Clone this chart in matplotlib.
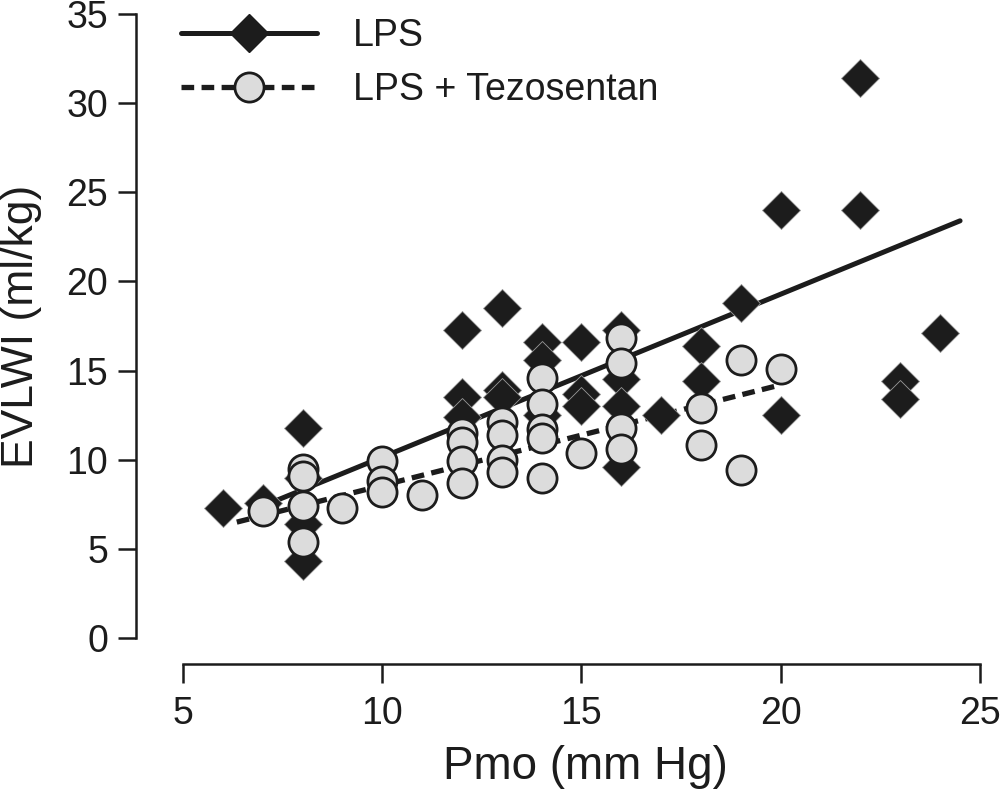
import matplotlib
matplotlib.use("Agg")
import matplotlib.pyplot as plt
from matplotlib.lines import Line2D

plt.rcParams['font.family'] = ['Liberation Sans', 'DejaVu Sans']

# LPS (diamonds)
lps_x = [6, 7, 8, 8, 8, 8, 12, 12, 12, 13, 13, 13, 14, 14, 14, 15, 15, 15,
         16, 16, 16, 16, 17, 18, 18, 19, 20, 20, 22, 22, 23, 23, 24]
lps_y = [7.3, 7.6, 11.8, 9.0, 6.4, 4.3, 17.3, 13.5, 12.4, 18.5, 13.9, 13.5,
         16.6, 15.6, 12.5, 16.6, 13.7, 13.0, 17.3, 14.5, 13.0, 9.6, 12.5,
         16.4, 14.4, 18.8, 24.0, 12.5, 31.4, 24.0, 14.4, 13.4, 17.1]

# LPS + Tezosentan (circles)
tez_x = [7, 8, 8, 8, 8, 9, 10, 10, 10, 11, 12, 12, 12, 12, 13, 13, 13, 13,
         14, 14, 14, 14, 14, 15, 16, 16, 16, 16, 18, 18, 19, 19, 20]
tez_y = [7.1, 9.5, 9.1, 7.4, 5.4, 7.3, 9.9, 8.8, 8.2, 8.0, 11.5, 11.0, 9.9,
         8.7, 12.1, 11.4, 10.0, 9.3, 14.6, 13.1, 11.7, 11.2, 9.0, 10.4, 16.8,
         15.4, 11.8, 10.6, 12.9, 10.8, 15.6, 9.4, 15.1]

# regression line end points
lps_fit_x = [7.0, 24.5]
lps_fit_y = [7.4, 23.4]
tez_fit_x = [6.35, 20.0]
tez_fit_y = [6.5, 14.2]

x_ticks = [5, 10, 15, 20, 25]
y_ticks = [0, 5, 10, 15, 20, 25, 30, 35]
labels = ["LPS", "LPS + Tezosentan"]

W, H = 1004, 789
fig = plt.figure(figsize=(W / 100, H / 100), dpi=100)
ax = fig.add_axes([183 / W, (H - 638) / H, (980 - 183) / W, (638 - 14) / H])
ax.set_xlim(5, 25)
ax.set_ylim(0, 35)

dark = "#1c1c1c"
grey = "#dcdcdc"
dash = (0, (2.4, 1.4))

ax.plot(lps_fit_x, lps_fit_y, color=dark, lw=3.6, solid_capstyle='round', zorder=2, clip_on=False)
ax.plot(tez_fit_x, tez_fit_y, color=dark, lw=3.8, linestyle=dash, dash_capstyle='butt', zorder=2, clip_on=False)
ax.plot(lps_x, lps_y, linestyle='none', marker='D', markersize=19.5, markerfacecolor=dark,
        markeredgecolor='#9a9a9a', markeredgewidth=0.6, zorder=3, clip_on=False)
ax.plot(tez_x, tez_y, linestyle='none', marker='o', markersize=21, markerfacecolor=grey,
        markeredgecolor=dark, markeredgewidth=2.0, zorder=4, clip_on=False)

for s in ['top', 'right']:
    ax.spines[s].set_visible(False)
ax.spines['left'].set_position(('outward', 33.8))
ax.spines['bottom'].set_position(('outward', 18.7))
ax.spines['left'].set_bounds(0, 35)
ax.spines['bottom'].set_bounds(5, 25)
for s in ['left', 'bottom']:
    ax.spines[s].set_linewidth(1.8)
    ax.spines[s].set_color(dark)

ax.set_xticks(x_ticks)
ax.set_yticks(y_ticks)
ax.tick_params(axis='both', direction='out', width=1.8, color=dark, labelsize=27, labelcolor=dark)
ax.tick_params(axis='y', length=13, pad=7)
ax.tick_params(axis='x', length=13.7, pad=9)

ax.set_ylabel("EVLWI (ml/kg)", fontsize=32, color=dark)
ax.yaxis.set_label_coords(-0.177, 0.5)
ax.set_xlabel("Pmo (mm Hg)", fontsize=33, color=dark)
ax.xaxis.set_label_coords(0.505, -0.172)

h1 = Line2D([], [], color=dark, lw=3.6, marker='D', markersize=19.5, markerfacecolor=dark,
            markeredgecolor=dark, solid_capstyle='round')
h2 = Line2D([], [], color=dark, lw=3.8, linestyle=dash, marker='o', markersize=21,
            markerfacecolor=grey, markeredgecolor=dark, markeredgewidth=2.0)
ax.legend([h1, h2], labels, loc='upper left', bbox_to_anchor=(-0.0025, 0.9936), frameon=False,
          fontsize=27, handlelength=3.63, handletextpad=0.95, labelspacing=0.49,
          borderaxespad=0, borderpad=0, numpoints=1, labelcolor=dark)

fig.savefig("out.png", dpi=100)
